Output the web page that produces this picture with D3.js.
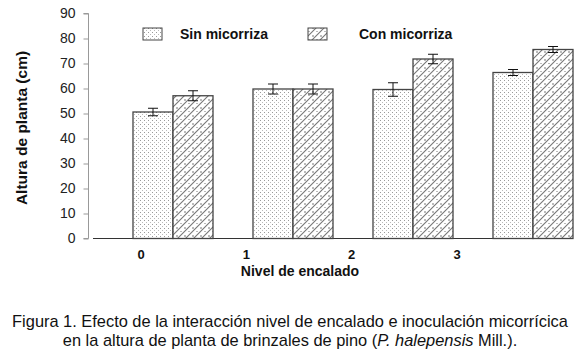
<!DOCTYPE html>
<html>
<head>
<meta charset="utf-8">
<script src="https://cdn.jsdelivr.net/npm/d3@7"></script>
<style>
  body { margin: 0; background: #fff; }
  text { font-family: Arial, "Liberation Sans", sans-serif; }
</style>
</head>
<body>
<div id="chart-area"></div>
<script>
var niveles = ["0", "1", "2", "3"];
var series = ["Sin micorriza", "Con micorriza"];
var sinValues = [50.6, 59.8, 59.6, 66.4];
var sinErrors = [1.5, 2.0, 2.7, 1.2];
var conValues = [57.1, 59.8, 71.8, 75.6];
var conErrors = [2.0, 2.0, 1.9, 1.2];
var yTicks = [0, 10, 20, 30, 40, 50, 60, 70, 80, 90];

var outerWidth = 580;
var outerHeight = 352;

var svg = d3.select("#chart-area")
  .append("svg")
  .attr("width", outerWidth)
  .attr("height", outerHeight);

// patterns
var defs = svg.append("defs");

var dots = defs.append("pattern")
  .attr("id", "dots")
  .attr("patternUnits", "userSpaceOnUse")
  .attr("width", 4)
  .attr("height", 4);
dots.append("rect").attr("width", 4).attr("height", 4).attr("fill", "#fff");
dots.append("rect").attr("x", 0).attr("y", 0).attr("width", 1).attr("height", 1).attr("fill", "#999");
dots.append("rect").attr("x", 2).attr("y", 2).attr("width", 1).attr("height", 1).attr("fill", "#bbb");

var hatch = defs.append("pattern")
  .attr("id", "hatch")
  .attr("patternUnits", "userSpaceOnUse")
  .attr("width", 8)
  .attr("height", 8);
hatch.append("rect").attr("width", 8).attr("height", 8).attr("fill", "#fff");
hatch.append("path")
  .attr("d", "M0,8 L8,0 M-2,2 L2,-2 M6,10 L10,6 M0,4 L2,4 M4,8 L6,8")
  .attr("stroke", "#777")
  .attr("stroke-width", 1.1)
  .attr("fill", "none");

// scales
var y = d3.scaleLinear()
  .domain([0, 90])
  .range([238.5, 13.5]);

var x = d3.scaleBand()
  .domain(niveles)
  .range([93, 573]);

var barW = x.bandwidth() / 3;

var labelX = d3.scalePoint()
  .domain(niveles)
  .range([141, 457]);

// Left axis
var yAxis = d3.axisLeft(y)
  .tickValues(yTicks)
  .tickSize(5)
  .tickPadding(8);

var yg = svg.append("g")
  .attr("transform", "translate(88.5,0)")
  .call(yAxis);
yg.select(".domain").attr("stroke", "#999").attr("d", "M-5,13.5H0V238.5H-5");
yg.selectAll(".tick line").attr("stroke", "#999");
yg.selectAll(".tick text")
  .attr("font-size", "14px")
  .attr("fill", "#222")
  .attr("font-family", "Arial, sans-serif");

// baseline
svg.append("line")
  .attr("x1", 93).attr("x2", 573)
  .attr("y1", y(0)).attr("y2", y(0))
  .attr("stroke", "#333")
  .attr("stroke-width", 1.2);

// bars
var groups = svg.selectAll(".grupo")
  .data(niveles)
  .enter()
  .append("g")
  .attr("class", "grupo");

function drawSeries(values, errors, offset, fill) {
  groups.append("rect")
    .attr("x", function(d, i) { return x(d) + offset; })
    .attr("y", function(d, i) { return y(values[i]); })
    .attr("width", barW)
    .attr("height", function(d, i) { return y(0) - y(values[i]); })
    .attr("fill", fill)
    .attr("stroke", "#444")
    .attr("stroke-width", 1.3);

  var cx = function(d) { return x(d) + offset + barW / 2; };
  groups.append("line")
    .attr("x1", cx).attr("x2", cx)
    .attr("y1", function(d, i) { return y(values[i] + errors[i]); })
    .attr("y2", function(d, i) { return y(values[i] - errors[i]); })
    .attr("stroke", "#111").attr("stroke-width", 1);
  [1, -1].forEach(function(s) {
    groups.append("line")
      .attr("x1", function(d) { return cx(d) - 5; })
      .attr("x2", function(d) { return cx(d) + 5; })
      .attr("y1", function(d, i) { return y(values[i] + s * errors[i]); })
      .attr("y2", function(d, i) { return y(values[i] + s * errors[i]); })
      .attr("stroke", "#111").attr("stroke-width", 1);
  });
}

drawSeries(sinValues, sinErrors, barW, "url(#dots)");
drawSeries(conValues, conErrors, barW * 2, "url(#hatch)");

// category labels
svg.selectAll(".cat")
  .data(niveles)
  .enter()
  .append("text")
  .attr("class", "cat")
  .attr("x", function(d) { return labelX(d); })
  .attr("y", 259)
  .attr("text-anchor", "middle")
  .attr("font-size", "13px")
  .attr("font-weight", "bold")
  .attr("fill", "#111")
  .text(function(d) { return d; });

// X-axis label
svg.append("text")
  .attr("x", 300)
  .attr("y", 276)
  .attr("text-anchor", "middle")
  .attr("font-size", "14px")
  .attr("font-weight", "bold")
  .attr("fill", "#111")
  .text("Nivel de encalado");

// Y-axis label
svg.append("text")
  .attr("transform", "translate(27,128) rotate(-90)")
  .attr("text-anchor", "middle")
  .attr("font-size", "15.5px")
  .attr("font-weight", "bold")
  .attr("fill", "#111")
  .text("Altura de planta (cm)");

// legend
var legendX = [143, 308];
var legendTextX = [180, 359];
var legendFill = ["url(#dots)", "url(#hatch)"];
series.forEach(function(s, i) {
  svg.append("rect")
    .attr("x", legendX[i]).attr("y", 28)
    .attr("width", 19).attr("height", 12)
    .attr("fill", legendFill[i])
    .attr("stroke", "#444")
    .attr("stroke-width", 1);
  svg.append("text")
    .attr("x", legendTextX[i])
    .attr("y", 39)
    .attr("font-size", "14px")
    .attr("font-weight", "bold")
    .attr("fill", "#111")
    .text(s);
});

// caption
var caption = svg.append("text")
  .attr("text-anchor", "middle")
  .attr("font-size", "16.4px")
  .attr("fill", "#111");
caption.append("tspan")
  .attr("x", 290).attr("y", 327)
  .text("Figura 1. Efecto de la interacción nivel de encalado e inoculación micorrícica");
var line2 = caption.append("tspan")
  .attr("x", 290).attr("y", 346);
line2.append("tspan").text("en la altura de planta de brinzales de pino (");
line2.append("tspan").attr("font-style", "italic").text("P. halepensis");
line2.append("tspan").text(" Mill.).");
</script>
</body>
</html>
